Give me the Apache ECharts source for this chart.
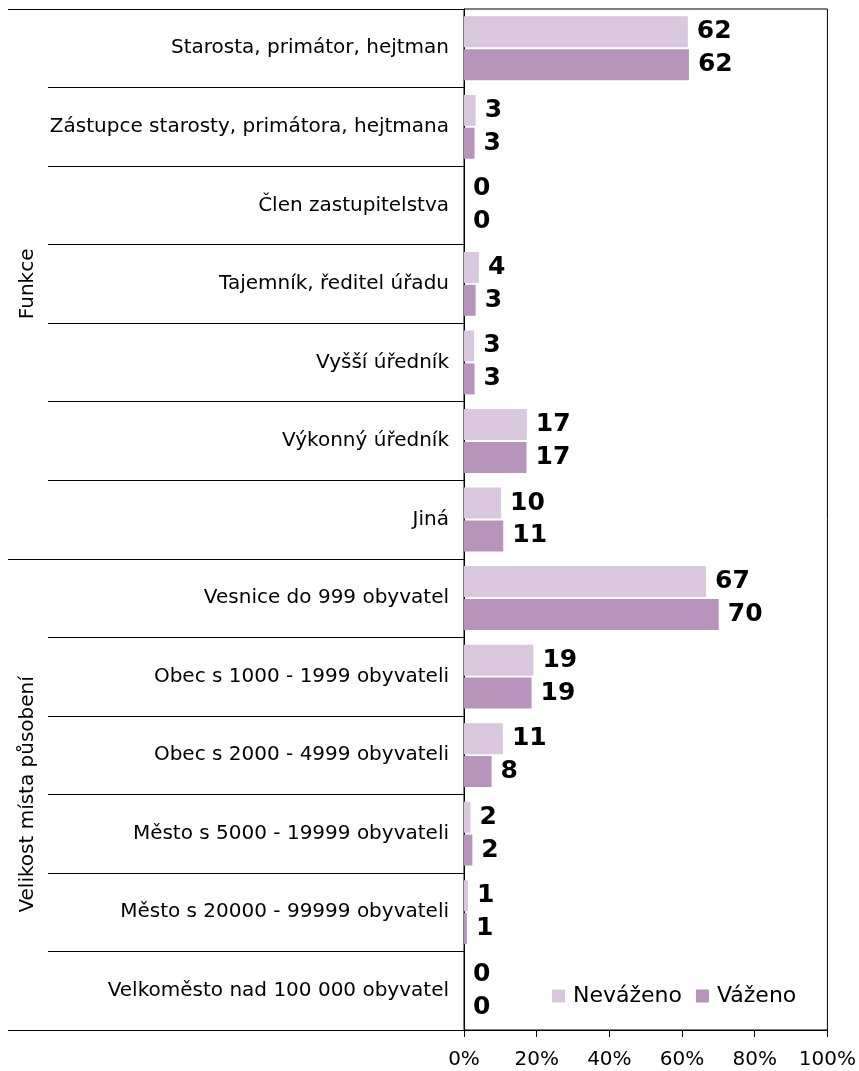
<!DOCTYPE html>
<html>
<head>
<meta charset="utf-8">
<script src="https://cdn.jsdelivr.net/npm/echarts@6/dist/echarts.min.js"></script>
<style>
  html, body { margin: 0; padding: 0; background: #fff; }
  #chart { width: 859px; height: 1071px; }
</style>
</head>
<body>
<div id="chart"></div>
<script>
  // categories, top to bottom
  let categories = [
    'Starosta, primátor, hejtman',
    'Zástupce starosty, primátora, hejtmana',
    'Člen zastupitelstva',
    'Tajemník, ředitel úřadu',
    'Vyšší úředník',
    'Výkonný úředník',
    'Jiná',
    'Vesnice do 999 obyvatel',
    'Obec s 1000 - 1999 obyvateli',
    'Obec s 2000 - 4999 obyvateli',
    'Město s 5000 - 19999 obyvateli',
    'Město s 20000 - 99999 obyvateli',
    'Velkoměsto nad 100 000 obyvatel'
  ]
  let nevazeno = [61.6, 3.2, 0, 4.1, 2.8, 17.3, 10.2, 66.6, 19.1, 10.7, 1.8, 1.1, 0]
  let vazeno = [61.9, 2.9, 0, 3.2, 2.9, 17.2, 10.8, 70.1, 18.6, 7.6, 2.3, 0.8, 0]
  // group boundaries (category index) and group titles at their middle
  let groupBounds = [0, 7, 13]
  let groupMid = [3.5, 10]
  let groupNames = ['Funkce', 'Velikost místa působení']
  let xTicks = [0, 20, 40, 60, 80, 100]

  let font = 'DejaVu Sans'
  let chart = echarts.init(document.getElementById('chart'))

  let barLabel = {
    show: true,
    position: 'right',
    distance: 9,
    fontFamily: font,
    fontWeight: 'bold',
    fontSize: 25,
    color: '#000',
    formatter: (p) => Math.round(p.value)
  }

  let option = {
    animation: false,
    backgroundColor: '#fff',
    textStyle: { fontFamily: font },
    grid: {
      left: 464, right: 31, top: 9, bottom: 41,
      show: true, borderColor: '#000', borderWidth: 1
    },
    legend: {
      data: ['Neváženo', 'Váženo'],
      left: 547, top: 980,
      icon: 'rect',
      itemWidth: 13, itemHeight: 13,
      itemGap: 14,
      textStyle: { fontFamily: font, fontSize: 22, color: '#000', padding: [0, 0, 0, 3] }
    },
    xAxis: {
      type: 'value',
      min: 0, max: 100, interval: 20,
      axisLine: { show: true, onZero: false, lineStyle: { color: '#000' } },
      axisTick: { show: true, inside: false, length: 7, lineStyle: { color: '#000' } },
      splitLine: { show: false },
      axisLabel: {
        fontFamily: font, fontSize: 20, color: '#000', margin: 20,
        formatter: '{value}%',
        customValues: xTicks
      }
    },
    yAxis: [{
      type: 'category',
      data: categories,
      inverse: true,
      axisLine: { show: true, lineStyle: { color: '#000' } },
      axisTick: { show: true, length: 416, interval: 0, lineStyle: { color: '#000' } },
      axisLabel: { fontFamily: font, fontSize: 20, color: '#000', margin: 15, interval: 0 }
    }, {
      type: 'value',
      min: 0, max: 13,
      inverse: true,
      position: 'left',
      axisLine: { show: false },
      splitLine: { show: false },
      axisTick: {
        show: true, length: 456, customValues: groupBounds,
        lineStyle: { color: '#000' }
      },
      axisLabel: {
        show: true,
        customValues: groupMid,
        rotate: 90,
        margin: 426,
        fontFamily: font, fontSize: 20, color: '#000',
        formatter: (v) => groupNames[groupMid.indexOf(v)]
      }
    }],
    series: [{
      name: 'Neváženo',
      type: 'bar',
      data: nevazeno,
      barWidth: 31,
      barGap: '6%',
      itemStyle: { color: '#d9c8dd' },
      label: barLabel
    }, {
      name: 'Váženo',
      type: 'bar',
      data: vazeno,
      barWidth: 31,
      barGap: '6%',
      itemStyle: { color: '#b894bd' },
      label: barLabel
    }]
  }
  chart.setOption(option)
</script>
</body>
</html>
